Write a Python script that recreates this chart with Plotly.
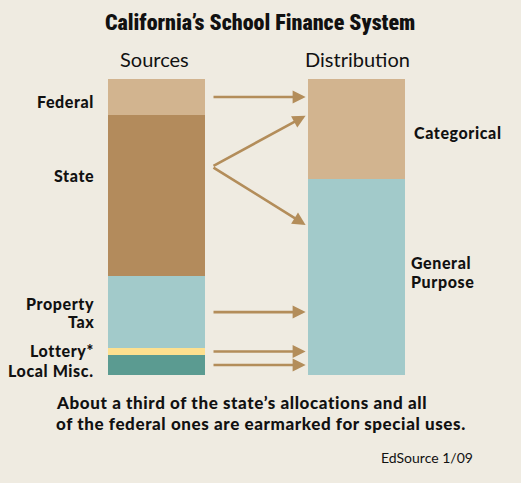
import plotly.graph_objects as go

# ---- data ----
bars = ["Sources", "Distribution"]
source_names = ["Local Misc.", "Lottery*", "Property Tax", "State", "Federal"]
source_values = [6.8, 2.3, 24.3, 54.4, 12.2]
source_colors = ["#5B9B91", "#FDE08F", "#A2CACA", "#B38B5C", "#D2B48F"]
dist_names = ["General Purpose", "Categorical"]
dist_values = [66.2, 33.8]
dist_colors = ["#A2CACA", "#D2B48F"]

W, H = 521, 483
BG = "#EFEBE1"
ARROW = "#B38D5A"
TOP, BOT = 79, 375
BAR_W = 0.485

fig = go.Figure()
for n, v, c in zip(source_names, source_values, source_colors):
    fig.add_trace(go.Bar(x=[bars[0]], y=[v], name=n, marker=dict(color=c, line=dict(width=0)),
                         width=BAR_W, hoverinfo="skip"))
for n, v, c in zip(dist_names, dist_values, dist_colors):
    fig.add_trace(go.Bar(x=[bars[1]], y=[v], name=n, marker=dict(color=c, line=dict(width=0)),
                         width=BAR_W, hoverinfo="skip"))

def py(p):  # pixel y -> data y
    return (BOT - p) / (BOT - TOP) * 100

def pyp(p):  # pixel y -> paper y
    return (BOT - p) / (BOT - TOP)

# arrow geometry derived from data
x_start = 0 + BAR_W / 2 + 0.035
x_tip = 1 - BAR_W / 2 - 0.012
cum = []
s = 0
for v in source_values:
    cum.append((s, s + v))
    s += v
mid = {n: (a + b) / 2 for n, (a, b) in zip(source_names, cum)}

ann = []
def arrow(y0, x1, y1):
    ann.append(dict(x=x1, y=y1, ax=x_start, ay=y0, xref="x", yref="y", axref="x", ayref="y",
                    showarrow=True, arrowhead=2, arrowsize=1.0, arrowwidth=2.6,
                    arrowcolor=ARROW, standoff=0, text=""))

arrow(mid["Federal"], x_tip, mid["Federal"])
state_split = cum[3][1] - 0.32 * source_values[3]
arrow(state_split, x_tip, py(115.7))
arrow(state_split, x_tip, py(225))
for n in ["Property Tax", "Lottery*", "Local Misc."]:
    arrow(mid[n], x_tip, mid[n])

LBL = dict(family="Lato, 'Open Sans', sans-serif", size=16, color="#111111", weight=900)

def text(t, x, y, xa="center", font=None, ls=0.6):
    if ls:
        t = f"<span style='letter-spacing:{ls}px'>{t}</span>"
    ann.append(dict(text=t, x=x / W, y=pyp(y), xref="paper", yref="paper", showarrow=False,
                    xanchor=xa, yanchor="middle", font=font or LBL,
                    align="right" if xa == "right" else "left"))

text("California’s School Finance System", 260, 23, ls=0,
     font=dict(family="'Roboto Condensed', Roboto, sans-serif", size=22, color="#111111", weight=900))
text("Sources", 154, 59, ls=0, font=dict(family="Lato, sans-serif", size=20, color="#111111"))
text("Distribution", 357, 59, ls=0, font=dict(family="Lato, sans-serif", size=20, color="#111111"))

text("Federal", 96, 101, xa="right")
text("State", 96, 175, xa="right")
text("Property", 96, 303, xa="right")
text("Tax", 96, 321, xa="right")
text("Lottery*", 96, 350, xa="right")
text("Local Misc.", 96, 370, xa="right")
text("Categorical", 412, 132, xa="left")
text("General", 409, 262, xa="left")
text("Purpose", 409, 281, xa="left")

BOTF = dict(LBL, size=17)
text("About a third of the state’s allocations and all", 54, 402, xa="left", font=BOTF)
text("of the federal ones are earmarked for special uses.", 54, 423, xa="left", font=BOTF)
text("EdSource 1/09", 475, 457, xa="right", ls=0, font=dict(family="Lato, sans-serif", size=14, color="#111111"))

fig.update_layout(
    width=W, height=H, barmode="stack", showlegend=False,
    paper_bgcolor=BG, plot_bgcolor=BG,
    margin=dict(l=0, r=0, t=TOP, b=H - BOT, pad=0),
    xaxis=dict(type="category", categoryorder="array", categoryarray=bars,
               range=[-156.5 / 200, (W - 156.5) / 200], visible=False, fixedrange=True),
    yaxis=dict(range=[0, 100], visible=False, fixedrange=True),
    annotations=ann, bargap=0,
)
fig.write_html("out.html", config={"displayModeBar": False},
               post_script="document.body.style.margin='0';")
